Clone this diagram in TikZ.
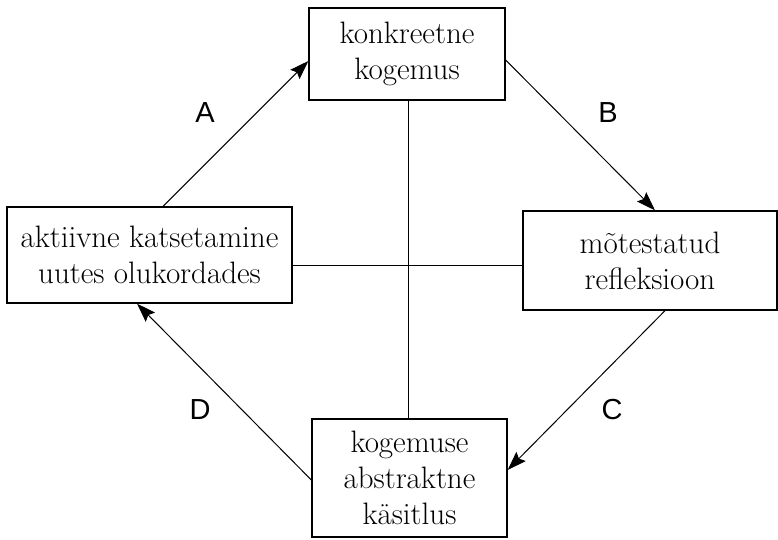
\documentclass[tikz,border=0pt]{standalone}
\usepackage{fontspec}
\newfontfamily\labelfont{Liberation Sans}
\usetikzlibrary{arrows.meta}

\begin{document}
\begin{tikzpicture}[x=1pt,y=-1pt,
  stage/.style={draw,line width=1.3pt,align=center,inner sep=0pt,font=\fontsize{31}{36}\selectfont},
  arr/.style={-{Stealth[length=19pt,width=13pt,inset=3pt]},line width=1pt},
  lbl/.style={font=\labelfont\fontsize{29}{29}\selectfont}
]
  \useasboundingbox (0,0) rectangle (778,540);
  \node[stage,minimum width=196pt,minimum height=92pt] (kon) at (407,54) {konkreetne\\kogemus};
  \node[stage,minimum width=285pt,minimum height=96pt] (akt) at (149.5,255) {aktiivne katsetamine\\uutes olukordades};
  \node[stage,minimum width=254pt,minimum height=99pt] (mot) at (650,260.5) {mõtestatud\\refleksioon};
  \node[stage,minimum width=195pt,minimum height=118pt] (kog) at (409.5,478) {kogemuse\\abstraktne\\käsitlus};
  % cross in the middle
  \draw[line width=1pt] (kon.south -| 408,0) -- (kog.north -| 408,0);
  \draw[line width=1pt] (akt.east |- 0,265) -- (mot.west |- 0,265);
  % cycle
  \draw[arr] (akt.north -| 163,0) -- (kon.west |- 0,61);
  \draw[arr] (kon.east |- 0,60) -- (mot.north -| 655,0);
  \draw[arr] (mot.south -| 665,0) -- (kog.east |- 0,470);
  \draw[arr] (kog.west |- 0,480) -- (akt.south -| 137,0);
  \node[lbl] (la) at (205,113) {A};
  \node[lbl] (lb) at (608,113) {B};
  \node[lbl] (lc) at (612,410) {C};
  \node[lbl] (ld) at (200,410) {D};
\end{tikzpicture}
\end{document}
